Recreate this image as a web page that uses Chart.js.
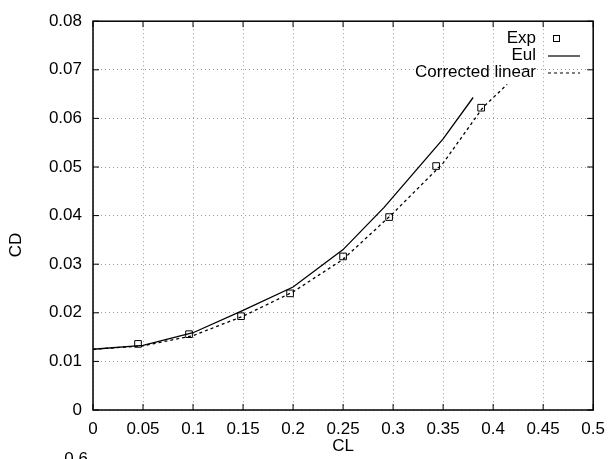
<!DOCTYPE html>
<html lang="en">
<head>
    <meta charset="UTF-8">
    <title>CD vs CL</title>
    <script src="https://cdn.jsdelivr.net/npm/chart.js"></script>
    <style>
        body {
            margin: 0;
            background: white;
        }
        .chart-box {
            width: 614px;
            height: 459px;
        }
    </style>
</head>
<body>
    <div class="chart-box">
        <canvas id="dragChart"></canvas>
    </div>

    <script>
    // data
    const expCL = [0.045, 0.096, 0.148, 0.197, 0.250, 0.296, 0.343, 0.388];
    const expCD = [0.0136, 0.0156, 0.0193, 0.0240, 0.0316, 0.0397, 0.0502, 0.0622];

    const eulCL = [0, 0.05, 0.10, 0.15, 0.20, 0.25, 0.291, 0.35, 0.38];
    const eulCD = [0.0125, 0.0133, 0.0159, 0.0205, 0.0253, 0.0330, 0.0417, 0.0558, 0.0643];

    const linCL = [0, 0.05, 0.10, 0.15, 0.20, 0.25, 0.30, 0.35, 0.39, 0.414];
    const linCD = [0.0125, 0.0132, 0.0153, 0.0193, 0.0243, 0.0310, 0.0405, 0.0508, 0.0623, 0.0670];

    const xTicks = [0, 0.05, 0.1, 0.15, 0.2, 0.25, 0.3, 0.35, 0.4, 0.45, 0.5];
    const yTicks = [0, 0.01, 0.02, 0.03, 0.04, 0.05, 0.06, 0.07, 0.08];

    const toPoints = (xs, ys) => xs.map((x, i) => ({ x: x, y: ys[i] }));
    const FONT = { family: '"Liberation Sans", Arial, sans-serif', size: 17 };

    // frame, inward ticks, legend and the y label, gnuplot style
    const framePlugin = {
        id: 'frame',
        afterDraw(chart) {
            const ctx = chart.ctx;
            const a = chart.chartArea;
            const xs = chart.scales.x, ys = chart.scales.y;
            ctx.save();
            ctx.strokeStyle = '#000';
            ctx.lineWidth = 1.5;
            ctx.strokeRect(a.left, a.top, a.right - a.left, a.bottom - a.top);
            ctx.lineWidth = 1;
            ctx.beginPath();
            xTicks.forEach(v => {
                const px = xs.getPixelForValue(v);
                ctx.moveTo(px, a.bottom); ctx.lineTo(px, a.bottom - 6);
                ctx.moveTo(px, a.top); ctx.lineTo(px, a.top + 6);
            });
            yTicks.forEach(v => {
                const py = ys.getPixelForValue(v);
                ctx.moveTo(a.left, py); ctx.lineTo(a.left + 6, py);
                ctx.moveTo(a.right, py); ctx.lineTo(a.right - 6, py);
            });
            ctx.stroke();

            // legend
            ctx.font = FONT.size + 'px ' + FONT.family;
            ctx.fillStyle = '#000';
            ctx.textAlign = 'right';
            ctx.textBaseline = 'middle';
            const rows = [38, 55, 72];
            chart.data.datasets.forEach((ds, i) => {
                const y = rows[i];
                ctx.fillText(ds.label, 536, y);
                ctx.beginPath();
                if (ds.showLine === false) {
                    ctx.lineWidth = 1;
                    ctx.setLineDash([]);
                    ctx.strokeRect(553.5, y - 2.5, 6, 6);
                } else {
                    ctx.lineWidth = 1.2;
                    ctx.setLineDash(ds.borderDash || []);
                    ctx.moveTo(548, y + 1);
                    ctx.lineTo(580, y + 1);
                    ctx.stroke();
                }
            });
            ctx.setLineDash([]);

            // y axis label
            ctx.translate(16, 245);
            ctx.rotate(-Math.PI / 2);
            ctx.textAlign = 'center';
            ctx.fillText('CD', 0, 0);
            ctx.restore();

            // clipped tick label of the next plot below
            ctx.save();
            ctx.font = FONT.size + 'px ' + FONT.family;
            ctx.fillStyle = '#000';
            ctx.textAlign = 'right';
            ctx.textBaseline = 'top';
            ctx.fillText('0.6', 88, 451);
            ctx.restore();
        }
    };

    const ctx = document.getElementById('dragChart').getContext('2d');
    new Chart(ctx, {
        type: 'scatter',
        data: {
            datasets: [
                {
                    label: 'Exp',
                    data: toPoints(expCL, expCD),
                    showLine: false,
                    pointStyle: 'rect',
                    pointRadius: 4.7,
                    pointBorderWidth: 1,
                    borderColor: '#000',
                    backgroundColor: 'rgba(0,0,0,0)'
                },
                {
                    label: 'Eul',
                    data: toPoints(eulCL, eulCD),
                    showLine: true,
                    pointRadius: 0,
                    borderWidth: 1.3,
                    borderColor: '#000',
                    tension: 0
                },
                {
                    label: 'Corrected linear',
                    data: toPoints(linCL, linCD),
                    showLine: true,
                    pointRadius: 0,
                    borderWidth: 1.3,
                    borderDash: [3, 3],
                    borderColor: '#000',
                    tension: 0
                }
            ]
        },
        options: {
            responsive: true,
            maintainAspectRatio: false,
            animation: false,
            layout: {
                padding: { left: 0, right: 18, top: 14, bottom: 0 }
            },
            plugins: {
                legend: { display: false },
                tooltip: { enabled: false }
            },
            scales: {
                x: {
                    type: 'linear',
                    min: 0,
                    max: 0.5,
                    afterFit: scale => { scale.height = 49; },
                    afterBuildTicks: scale => { scale.ticks = xTicks.map(v => ({ value: v })); },
                    ticks: {
                        color: '#000',
                        font: FONT,
                        padding: 9,
                        maxRotation: 0,
                        callback: v => String(v)
                    },
                    title: {
                        display: true,
                        text: 'CL',
                        color: '#000',
                        font: FONT,
                        padding: { top: 0, bottom: 2 }
                    },
                    grid: {
                        color: '#999',
                        drawTicks: false
                    },
                    border: { display: false, dash: [1, 3] }
                },
                y: {
                    type: 'linear',
                    min: 0,
                    max: 0.08,
                    afterFit: scale => { scale.width = 93; },
                    afterBuildTicks: scale => { scale.ticks = yTicks.map(v => ({ value: v })); },
                    ticks: {
                        color: '#000',
                        font: FONT,
                        padding: 11,
                        callback: v => String(v)
                    },
                    grid: {
                        color: '#999',
                        drawTicks: false
                    },
                    border: { display: false, dash: [1, 3] }
                }
            }
        },
        plugins: [framePlugin]
    });
    </script>
</body>
</html>
